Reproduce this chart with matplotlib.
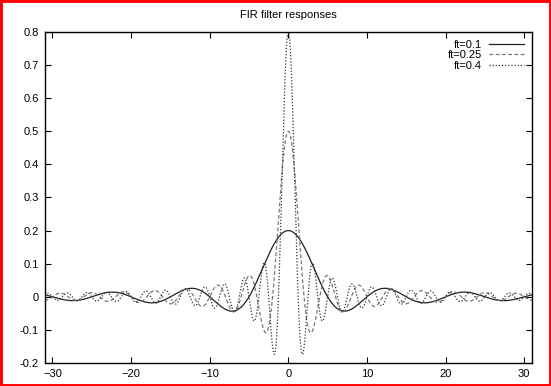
import numpy as np
import matplotlib
matplotlib.use("Agg")
import matplotlib.pyplot as plt
from matplotlib.patches import Rectangle

# cutoff frequencies of the three ideal low-pass FIR filters
cutoffs = [0.1, 0.25, 0.4]
labels = ["ft=0.1", "ft=0.25", "ft=0.4"]
styles = ["-", (0, (3, 2)), (0, (1, 1.5))]
colors = ["#222222", "#777777", "#333333"]
x_lo, x_hi = -31, 31

plt.rcParams["font.family"] = ["Liberation Sans", "DejaVu Sans"]

fig = plt.figure(figsize=(5.51, 3.86), dpi=100)
ax = fig.add_axes([0.081, 0.0596, 0.8845, 0.8575])

n = np.linspace(x_lo, x_hi, 2481)
for ft, lab, ls, c in zip(cutoffs, labels, styles, colors):
    h = 2 * ft * np.sinc(2 * ft * n)   # ideal impulse response
    ax.plot(n, h, ls=ls, color=c, lw=0.9, label=lab)

ax.set_xlim(x_lo, x_hi)
ax.set_ylim(-0.2, 0.8)
ax.set_xticks([-30, -20, -10, 0, 10, 20, 30])
ax.set_yticks(np.round(np.arange(-0.2, 0.81, 0.1), 1))
ax.set_yticklabels(["-0.2", "-0.1", "0", "0.1", "0.2", "0.3", "0.4", "0.5", "0.6", "0.7", "0.8"])
ax.tick_params(direction="in", top=True, right=True, labelsize=8, length=4, width=0.8, pad=4)
for s in ax.spines.values():
    s.set_linewidth(1.0)
ax.set_title("FIR filter responses", fontsize=8, pad=10)

leg = ax.legend(loc="upper right", frameon=False, fontsize=8, markerfirst=False,
                handlelength=3.2, handletextpad=0.6, labelspacing=0.05,
                borderaxespad=0.3, alignment="right")
for t in leg.get_texts():
    t.set_ha("right")

fig.patches.append(Rectangle((0, 0), 1, 1, transform=fig.transFigure, fill=False,
                             edgecolor="red", lw=3.5, zorder=10))

fig.savefig("out.png", dpi=100)
